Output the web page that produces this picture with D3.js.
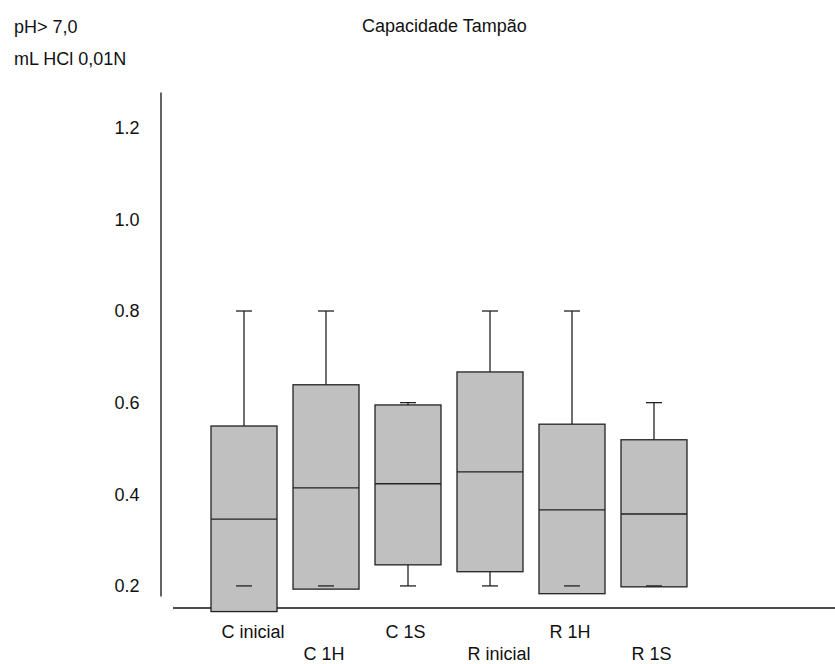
<!DOCTYPE html>
<html>
<head>
<meta charset="utf-8">
<script src="https://cdn.jsdelivr.net/npm/d3@7"></script>
<style>
  body { margin: 0; background: #fff; }
  text { font-family: "Liberation Sans", Arial, sans-serif; font-size: 18px; fill: #111; }
</style>
</head>
<body>
<svg id="chart" width="835" height="664"></svg>
<script>
// categories and the five numbers of each box
const categories = ["C inicial", "C 1H", "C 1S", "R inicial", "R 1H", "R 1S"]
const whiskerLow  = [0.2,   0.2,   0.2,   0.2,   0.2,   0.2]
const boxBottom   = [0.144, 0.193, 0.246, 0.231, 0.183, 0.198]
const medians     = [0.346, 0.414, 0.423, 0.449, 0.366, 0.357]
const boxTop      = [0.549, 0.639, 0.595, 0.667, 0.553, 0.519]
const whiskerHigh = [0.8,   0.8,   0.6,   0.8,   0.8,   0.6]
const yTicks = [0.2, 0.4, 0.6, 0.8, 1.0, 1.2]

const svg = d3.select("#chart")

const x = d3.scaleBand().domain(categories).range([211, 687])
  .paddingInner(0.195).paddingOuter(0)
const y = d3.scaleLinear().domain([0.178, 1.278]).range([596, 92])

// y axis, no ticks, just labels
const yAxis = svg.append("g")
  .attr("transform", "translate(160.5,0)")
  .call(d3.axisLeft(y).tickValues(yTicks).tickFormat(d3.format(".1f"))
    .tickSizeInner(0).tickSizeOuter(0).tickPadding(21))
yAxis.select(".domain").attr("stroke", "#111").attr("stroke-width", 1.3)
yAxis.selectAll("text").style("font-size", "18px").attr("fill", "#111")
  .style("font-family", "\"Liberation Sans\", Arial, sans-serif")

// base line
svg.append("line")
  .attr("x1", 173).attr("x2", 835).attr("y1", 608).attr("y2", 608)
  .attr("stroke", "#111").attr("stroke-width", 1.3)

const capW = 16
const boxes = svg.append("g").selectAll("g").data(categories).join("g")
  .attr("transform", d => "translate(" + x(d) + ",0)")
const bw = x.bandwidth()

// upper whisker
boxes.append("line")
  .attr("x1", bw/2).attr("x2", bw/2)
  .attr("y1", (d, i) => y(boxTop[i])).attr("y2", (d, i) => y(whiskerHigh[i]))
  .attr("stroke", "#222").attr("stroke-width", 1.3)
boxes.append("line")
  .attr("x1", bw/2 - capW/2).attr("x2", bw/2 + capW/2)
  .attr("y1", (d, i) => y(whiskerHigh[i])).attr("y2", (d, i) => y(whiskerHigh[i]))
  .attr("stroke", "#222").attr("stroke-width", 1.3)

// lower whisker (only a stem if it sits below the box)
boxes.filter((d, i) => whiskerLow[i] < boxBottom[i]).append("line")
  .attr("x1", bw/2).attr("x2", bw/2)
  .attr("y1", d => y(boxBottom[categories.indexOf(d)]))
  .attr("y2", d => y(whiskerLow[categories.indexOf(d)]))
  .attr("stroke", "#222").attr("stroke-width", 1.3)

boxes.append("rect")
  .attr("x", 0).attr("width", bw)
  .attr("y", (d, i) => y(boxTop[i]))
  .attr("height", (d, i) => y(boxBottom[i]) - y(boxTop[i]))
  .attr("fill", "#c0c0c0").attr("stroke", "#222").attr("stroke-width", 1.3)

boxes.append("line")
  .attr("x1", 0).attr("x2", bw)
  .attr("y1", (d, i) => y(medians[i])).attr("y2", (d, i) => y(medians[i]))
  .attr("stroke", "#222").attr("stroke-width", 1.3)

// lower cap drawn last so it shows inside the box too
boxes.append("line")
  .attr("x1", bw/2 - capW/2).attr("x2", bw/2 + capW/2)
  .attr("y1", (d, i) => y(whiskerLow[i])).attr("y2", (d, i) => y(whiskerLow[i]))
  .attr("stroke", "#222").attr("stroke-width", 1.3)

// staggered category labels
svg.append("g").selectAll("text").data(categories).join("text")
  .attr("x", d => x(d) + 10.5)
  .attr("y", (d, i) => i % 2 ? 660 : 638)
  .text(d => d)

svg.append("text").attr("x", 14).attr("y", 33).text("pH> 7,0")
svg.append("text").attr("x", 14).attr("y", 65).text("mL HCl 0,01N")
svg.append("text").attr("x", 362).attr("y", 32).text("Capacidade Tampão")
</script>
</body>
</html>
